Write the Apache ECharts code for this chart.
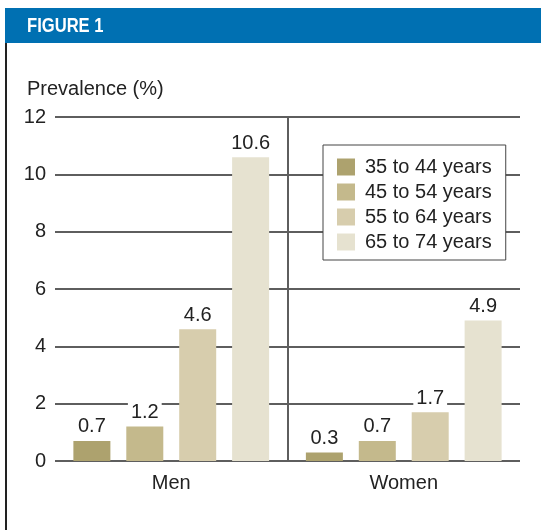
<!DOCTYPE html>
<html>
<head>
<meta charset="utf-8">
<script src="https://cdn.jsdelivr.net/npm/echarts@6/dist/echarts.min.js"></script>
<style>
  html, body { margin: 0; padding: 0; background: #fff; }
  #chart { width: 541px; height: 530px; }
</style>
</head>
<body>
<div id="chart"></div>
<script>
var categories = ['Men', 'Women'];
var seriesNames = ['35 to 44 years', '45 to 54 years', '55 to 64 years', '65 to 74 years'];
var age35to44 = [0.7, 0.3];
var age45to54 = [1.2, 0.7];
var age55to64 = [4.6, 1.7];
var age65to74 = [10.6, 4.9];
var colors = ['#ada26e', '#c4b98c', '#d7cdad', '#e6e2d0'];

var font = '"Liberation Sans", Arial, sans-serif';
var gridColor = '#5e5e5e';
var chart = echarts.init(document.getElementById('chart'));

function bar(name, data, color) {
  return {
    name: name,
    type: 'bar',
    data: data,
    barWidth: 37,
    barGap: '43%',
    itemStyle: { color: color },
    label: {
      show: true,
      position: 'top',
      distance: 4,
      fontFamily: font,
      fontSize: 20,
      color: '#222',
      backgroundColor: '#fff',
      padding: [1, 3, 0, 3]
    }
  };
}

chart.setOption({
  animation: false,
  textStyle: { fontFamily: font },
  graphic: [
    { type: 'rect', shape: { x: 5, y: 8, width: 536, height: 35 }, style: { fill: '#0070b2' } },
    { type: 'text', x: 27, y: 26, scaleX: 0.79, style: { text: 'FIGURE 1', fill: '#fff', fontFamily: font, fontWeight: 'bold', fontSize: 21, textVerticalAlign: 'middle' } },
    { type: 'rect', shape: { x: 5, y: 43, width: 2, height: 487 }, style: { fill: '#222' } }
  ],
  title: {
    text: 'Prevalence (%)',
    left: 22,
    top: 74,
    textStyle: { fontFamily: font, fontSize: 20, fontWeight: 'normal', color: '#222' }
  },
  legend: {
    data: seriesNames,
    orient: 'vertical',
    left: 323,
    top: 145,
    icon: 'rect',
    itemWidth: 18,
    itemHeight: 17,
    itemGap: 5,
    padding: [12, 14, 8, 14],
    backgroundColor: '#fff',
    borderColor: '#444',
    borderWidth: 1,
    textStyle: { fontFamily: font, fontSize: 20, color: '#222', padding: [0, 0, 0, 5] }
  },
  grid: { left: 55, right: 21, top: 117, bottom: 69 },
  xAxis: [{
    type: 'category',
    data: categories,
    axisLine: { show: false },
    axisTick: { show: false },
    axisLabel: { fontFamily: font, fontSize: 20, color: '#222', margin: 12 }
  }, {
    // helper axis for the group separator line
    type: 'value',
    min: 0,
    max: categories.length,
    show: false
  }],
  yAxis: {
    type: 'value',
    min: 0,
    max: 12,
    interval: 2,
    axisLine: { show: false },
    axisTick: { show: false },
    axisLabel: { fontFamily: font, fontSize: 20, color: '#222', margin: 9 },
    splitLine: { lineStyle: { color: gridColor, width: 2 } }
  },
  series: [
    bar(seriesNames[0], age35to44, colors[0]),
    bar(seriesNames[1], age45to54, colors[1]),
    bar(seriesNames[2], age55to64, colors[2]),
    bar(seriesNames[3], age65to74, colors[3]),
    {
      type: 'scatter',
      xAxisIndex: 1,
      data: [],
      silent: true,
      markLine: {
        silent: true,
        symbol: 'none',
        label: { show: false },
        lineStyle: { color: gridColor, width: 2, type: 'solid' },
        data: [{ xAxis: 1 }]
      }
    }
  ]
});
</script>
</body>
</html>
